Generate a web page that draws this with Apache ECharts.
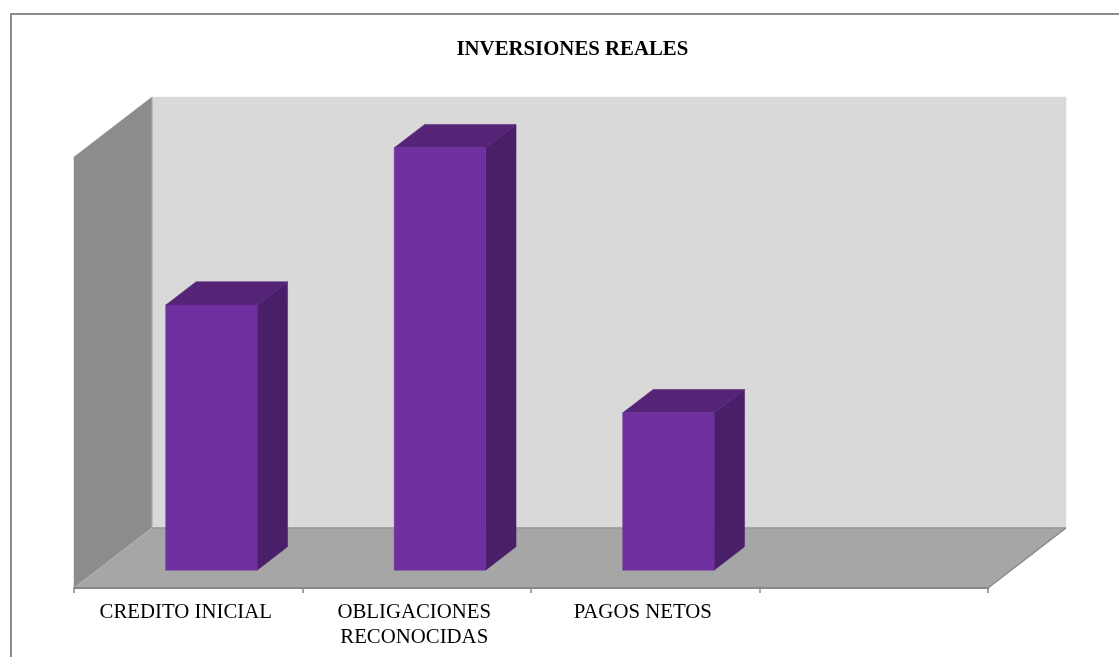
<!DOCTYPE html>
<html><head><meta charset="utf-8">
<style>html,body{margin:0;padding:0;background:#fff}#c{width:1119px;height:657px}</style>
<script src="https://cdn.jsdelivr.net/npm/echarts@6/dist/echarts.min.js"></script>
</head><body><div id="c"></div>
<script>
const titleText = 'INVERSIONES REALES';
const categories = ['CREDITO INICIAL', 'OBLIGACIONES\nRECONOCIDAS', 'PAGOS NETOS', ''];
const values = [61.5, 98, 36.5];

const DEPTH_X = 78, DEPTH_Y = 60;      // oblique projection of the full floor depth
const BAR_START = 0.297, BAR_DEPTH = 0.39; // bar position within that depth
const BAR_WIDTH = 0.4;                 // share of a category band
const FONT = '"Liberation Serif", serif';

const chart = echarts.init(document.getElementById('c'), null, {renderer: 'canvas'});

function poly(points, fill, stroke) {
  return {type: 'polygon', shape: {points}, style: {fill, stroke: stroke || fill, lineWidth: stroke ? 1 : 0.5}};
}

function renderWalls(params, api) {
  const n = categories.length;
  const band = api.size([1, 0])[0];
  const bl = api.coord([0, 0]); bl[0] -= band / 2;
  const tl = api.coord([0, 100]); tl[0] -= band / 2;
  const br = api.coord([n - 1, 0]); br[0] += band / 2;
  const d = p => [p[0] + DEPTH_X, p[1] - DEPTH_Y];
  const dbl = d(bl), dtl = d(tl), dbr = d(br), dtr = [dbr[0], dtl[1]];
  return {type: 'group', silent: true, children: [
    poly([dtl, dtr, dbr, dbl], '#d9d9d9'),
    poly([tl, dtl, dbl, bl], '#8c8c8c'),
    poly([bl, br, dbr, dbl], '#a6a6a6'),
    {type: 'line', shape: {x1: dbl[0], y1: dbl[1], x2: dbr[0], y2: dbr[1]}, style: {stroke: '#999999', lineWidth: 1.5}},
    {type: 'line', shape: {x1: br[0], y1: br[1], x2: dbr[0], y2: dbr[1]}, style: {stroke: '#868686', lineWidth: 1.2}},
    {type: 'line', shape: {x1: dbl[0], y1: dtl[1], x2: dbl[0], y2: dbl[1]}, style: {stroke: '#b0b0b0', lineWidth: 1}},
    {type: 'line', shape: {x1: bl[0], y1: bl[1], x2: dbl[0], y2: dbl[1]}, style: {stroke: '#b4b4b4', lineWidth: 1}}
  ]};
}

function renderBar(params, api) {
  const idx = api.value(0), val = api.value(1);
  const band = api.size([1, 0])[0];
  const w = band * BAR_WIDTH;
  const base = api.coord([idx, 0]), top = api.coord([idx, val]);
  const ox = DEPTH_X * BAR_START, oy = DEPTH_Y * BAR_START;
  const dx = DEPTH_X * BAR_DEPTH, dy = DEPTH_Y * BAR_DEPTH;
  const x0 = base[0] - w / 2 + ox, x1 = x0 + w;
  const yb = base[1] - oy, yt = top[1] - oy;
  return {type: 'group', children: [
    poly([[x1, yt], [x1 + dx, yt - dy], [x1 + dx, yb - dy], [x1, yb]], '#491f6a'),
    poly([[x0, yt], [x0 + dx, yt - dy], [x1 + dx, yt - dy], [x1, yt]], '#562477'),
    poly([[x0, yt], [x1, yt], [x1, yb], [x0, yb]], '#7030a0')
  ]};
}

chart.setOption({
  animation: false,
  backgroundColor: '#ffffff',
  title: {text: titleText, left: 451.5, top: 34,
    textStyle: {fontFamily: FONT, fontSize: 20.8, fontWeight: 'bold', color: '#000'}},
  graphic: [{type: 'polyline', silent: true, z: -10, shape: {points: [[11, 657], [11, 14], [1119, 14]]},
    style: {fill: 'none', stroke: '#8c8c8c', lineWidth: 2}}],
  grid: {left: 74, width: 914, top: 157, height: 431, containLabel: false},
  xAxis: {type: 'category', data: categories, z: 5,
    axisLine: {show: true, lineStyle: {color: '#868686', width: 2}},
    axisTick: {show: true, alignWithLabel: false, length: 5, lineStyle: {color: '#868686', width: 1.5}},
    axisLabel: {interval: 0, margin: 12, fontFamily: FONT, fontSize: 20.8, color: '#000', lineHeight: 25, align: 'center', padding: [0, 5, 0, 0]}},
  yAxis: {type: 'value', min: 0, max: 100, show: false},
  series: [
    {type: 'custom', z: 1, silent: true, data: [[0, 0]], renderItem: renderWalls, encode: {x: 0, y: 1}, clip: false},
    {type: 'custom', z: 3, name: titleText, data: values.map((v, i) => [i, v]), renderItem: renderBar, encode: {x: 0, y: 1}, clip: false}
  ]
});
</script></body></html>
